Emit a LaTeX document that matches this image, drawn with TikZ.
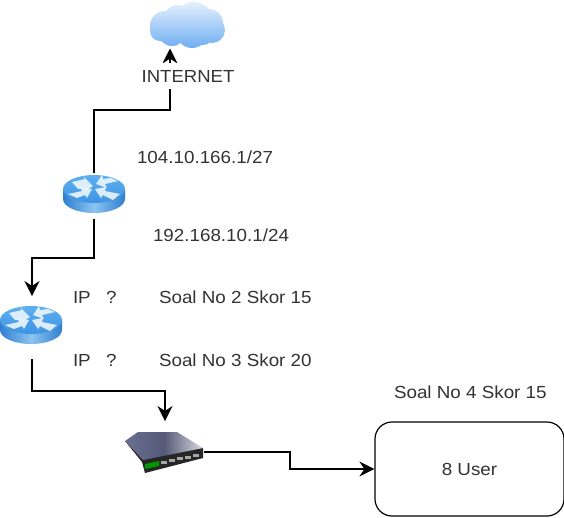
\documentclass[tikz,border=0pt]{standalone}
\usepackage{fontspec}
\setmainfont{Liberation Sans}
\usetikzlibrary{arrows.meta}
\definecolor{rtop}{HTML}{5FB0F0}
\definecolor{rtopd}{HTML}{3E94E4}
\definecolor{rside}{HTML}{2F7FD0}
\definecolor{rsidel}{HTML}{8CC4F2}
\definecolor{cloudt}{HTML}{E4F0FD}
\definecolor{cloudb}{HTML}{6FAEF2}
\definecolor{swtop}{HTML}{4A4F6C}
\definecolor{swmid}{HTML}{6A7090}
\definecolor{swlight}{HTML}{D8DAE0}
\tikzset{
  conn/.style={draw=black,line width=1.3pt,-{Stealth[length=15pt,width=15pt,inset=5pt]}},
  anchorbox/.style={inner sep=0pt,outer sep=0pt},
  lbl/.style={inner sep=0pt,outer sep=0pt,text=black!80,font=\fontsize{17.5}{19}\selectfont,anchor=west,xscale=1.075},
  usrbox/.style={draw=black,line width=1.2pt,rounded corners=17pt,minimum width=189pt,minimum height=94pt,inner sep=0pt,text=black!80,font=\fontsize{17.5}{19}\selectfont}
}
\newcommand{\routericon}[2]{%
  \begin{scope}[shift={(#1,#2)}]
    \shade[left color=rside,right color=rside,middle color=rsidel]
      (-31,-7) -- (-31,3) arc[start angle=180,end angle=0,x radius=31,y radius=14] -- (31,-7) -- cycle;
    \shade[top color=rtop,bottom color=rtopd]
      (0,-7) ellipse[x radius=31,y radius=14];
    \fill[white,opacity=.8] (-22,-14) -- (-9,-17) -- (-11,-20) -- (-1,-10) -- (-9,-5) -- (-8,-8) -- (-16,-7) -- cycle;
    \fill[white,opacity=.8] (24,-15) -- (11,-12) -- (13,-8) -- (2,-12) -- (8,-21) -- (9,-17) -- (17,-18) -- cycle;
    \fill[white,opacity=.8] (-26,-2) -- (-12,-5) -- (-14,-9) -- (-2,-7) -- (-7,2) -- (-9,-1) -- (-17,2) -- cycle;
    \fill[white,opacity=.8] (19,4) -- (9,-1) -- (7,2) -- (1,-7) -- (12,-9) -- (11,-5) -- (26,-2) -- cycle;
  \end{scope}}
\begin{document}
\begin{tikzpicture}[x=1pt,y=-1pt]
\useasboundingbox (0,0) rectangle (564,517);

% cloud
\shade[top color=cloudt,bottom color=cloudb]
  (165,26) circle[radius=15] (178,20) circle[radius=15] (194,21) circle[radius=19]
  (209,23) circle[radius=14] (212,30) circle[radius=13] (172,32) circle[radius=14]
  (192,32) circle[radius=16] (203,34) circle[radius=11] (160,31) circle[radius=10];
\node[anchorbox,minimum width=76pt,minimum height=46pt] (cloud) at (188,25.5) {};

% routers
\routericon{94}{196}
\routericon{31}{327}
\node[anchorbox,minimum width=62pt,minimum height=46pt] (r1) at (94,196) {};
\node[anchorbox,minimum width=62pt,minimum height=63pt] (r2) at (32,327.5) {};

% switch
\fill[black!85] (125,441) -- (142,462) -- (145,473) -- (203,458) -- (203,448) -- cycle;
\shade[left color=swmid,right color=swlight,middle color=swtop!70!swmid]
  (125,441) -- (138,432) -- (177,432) -- (203,448) -- (143,460) -- cycle;
\fill[green!60!black] (145,464) -- (159,461) -- (159,466) -- (145,469) -- cycle;
\foreach \i in {0,1,2,3,4}{
  \fill[black!35] (161+\i*8,461-\i*1.8) rectangle ++(6,3);
}
\node[anchorbox,minimum width=78pt,minimum height=62pt] (sw) at (165,452) {};

% user box
\node[usrbox] (usr) at (469.5,469) {\scalebox{1.075}[1]{8 User}};

% helper points
\coordinate (j1) at (170,110);

% connectors
\draw[conn] (r1.north) |- (j1) -- (j1 |- cloud.south);
\draw[conn] (r1.south) -- ++(0,39) -| (r2.north);
\draw[conn] (r2.south) -- ++(0,32) -| (sw.north);
\draw[conn] (sw.east) -- ++(86,0) |- (usr.west);

% labels
\node[anchorbox,fill=white,minimum width=96pt,minimum height=26pt,text=black!80,font=\fontsize{17.5}{19}\selectfont] (inet) at (188,76) {\scalebox{1.06}[1]{INTERNET}};
\node[lbl] (a1) at (137,157) {104.10.166.1/27};
\node[lbl] (a2) at (153,235) {192.168.10.1/24};
\node[lbl] (ip1) at (73,297) {IP};
\node[lbl] (q1) at (106,297) {?};
\node[lbl] (s2) at (159,297) {Soal No 2 Skor 15};
\node[lbl] (ip2) at (73,360) {IP};
\node[lbl] (q2) at (106,360) {?};
\node[lbl] (s3) at (159,360) {Soal No 3 Skor 20};
\node[lbl] (s4) at (394,392) {Soal No 4 Skor 15};
\end{tikzpicture}
\end{document}
